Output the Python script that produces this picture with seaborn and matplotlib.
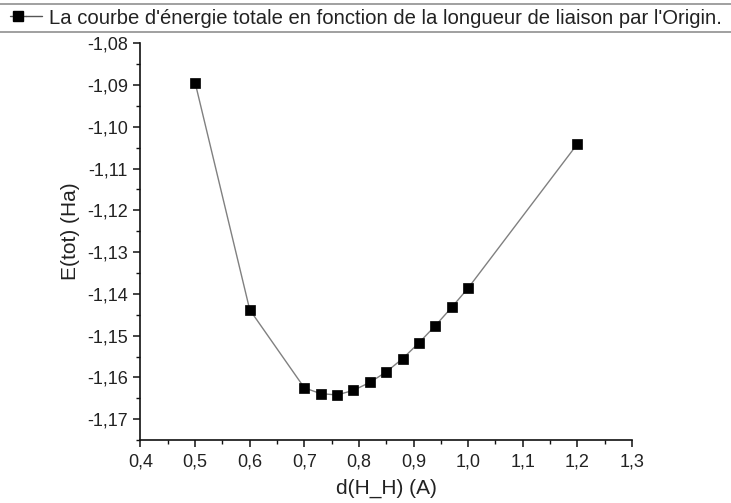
import numpy as np
import pandas as pd
import matplotlib
matplotlib.use('Agg')
import matplotlib.pyplot as plt
import matplotlib.ticker as mticker
from matplotlib.lines import Line2D
from matplotlib.legend_handler import HandlerTuple
import seaborn as sns

d_hh = [0.5, 0.6, 0.7, 0.73, 0.76, 0.79, 0.82, 0.85, 0.88, 0.91, 0.94, 0.97, 1.0, 1.2]
e_tot = [-1.0894, -1.1438, -1.1625, -1.1639, -1.1642, -1.1631, -1.1612,
         -1.1587, -1.1555, -1.1517, -1.1476, -1.1432, -1.1386, -1.1041]
x_ticks = [0.4, 0.5, 0.6, 0.7, 0.8, 0.9, 1.0, 1.1, 1.2, 1.3]
y_ticks = [-1.17, -1.16, -1.15, -1.14, -1.13, -1.12, -1.11, -1.10, -1.09, -1.08]
legende = "La courbe d'énergie totale en fonction de la longueur de liaison par l'Origin."

base = pd.DataFrame({'d': d_hh, 'E': e_tot})

sns.set_style('ticks')
plt.rcParams['font.family'] = ['Liberation Sans', 'DejaVu Sans']

fig = plt.figure(figsize=(7.31, 5.03), dpi=100)
ax = fig.add_axes([0.1922, 0.1252, 0.6724, 0.7887])

sns.lineplot(data=base, x='d', y='E', sort=False, ax=ax, color='#808080', lw=1.0,
             marker='s', markersize=6.5, markerfacecolor='black',
             markeredgecolor='black', markeredgewidth=0.5)

ax.set_xlim(0.4, 1.3)
ax.set_ylim(-1.175, -1.08)
ax.set_xticks(x_ticks)
ax.set_yticks(y_ticks)
ax.xaxis.set_minor_locator(mticker.MultipleLocator(0.05))
ax.yaxis.set_minor_locator(mticker.MultipleLocator(0.005))
ax.xaxis.set_major_formatter(mticker.FuncFormatter(lambda v, p: f'{v:.1f}'.replace('.', ',')))
ax.yaxis.set_major_formatter(mticker.FuncFormatter(lambda v, p: f'{v:.2f}'.replace('.', ',')))

for s in ['top', 'right']:
    ax.spines[s].set_visible(False)
for s in ['left', 'bottom']:
    ax.spines[s].set_linewidth(1.2)
    ax.spines[s].set_color('#111111')

ax.tick_params(which='major', direction='out', length=5, width=1.1, labelsize=13,
               colors='#111111', labelcolor='#222222')
ax.tick_params(which='minor', direction='out', length=2.8, width=1.0, colors='#111111')
ax.tick_params(axis='x', pad=5)
ax.tick_params(axis='y', pad=4)

ax.set_xlabel('d(H_H) (A)', fontsize=15, color='#222222', labelpad=6)
ax.set_ylabel('E(tot) (Ha)', fontsize=15, color='#222222')
ax.yaxis.set_label_coords(-0.123, 0.527)

# legende en haut, facon Origin
h_pt = Line2D([], [], color='#555555', lw=1.0, marker='s', markersize=6.5,
              markerfacecolor='black', markeredgecolor='black')
h_ln = Line2D([], [], color='#555555', lw=1.0)
fig.legend([(h_pt, h_ln)], [legende], handler_map={tuple: HandlerTuple(ndivide=2, pad=0)},
           loc='center left', bbox_to_anchor=(10 / 731, 1 - 18 / 503), frameon=False,
           fontsize=14.6, handlelength=1.6, handletextpad=0.3, borderaxespad=0,
           borderpad=0, labelcolor='#222222')
for yy in [4, 32]:
    fig.add_artist(Line2D([0, 1], [1 - yy / 503] * 2, color='#999999', lw=1.3,
                          transform=fig.transFigure))

fig.savefig('out.png', dpi=100)
